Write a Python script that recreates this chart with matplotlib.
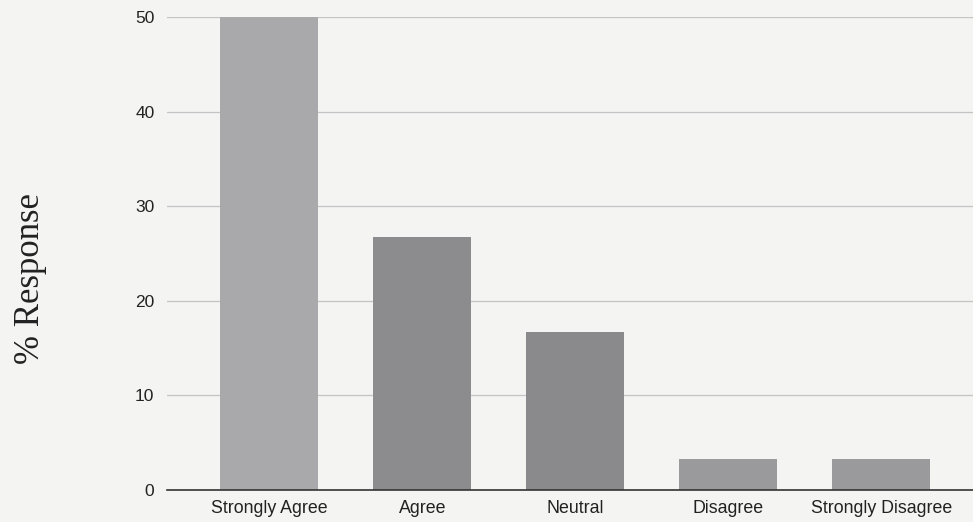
import matplotlib
matplotlib.use("Agg")
import matplotlib.pyplot as plt

# Survey responses (% of respondents)
categories = ['Strongly Agree', 'Agree', 'Neutral', 'Disagree', 'Strongly Disagree']
values = [50.0, 26.7, 16.7, 3.3, 3.3]
bar_colors = ['#a9a9ab', '#8c8c8e', '#8a8a8c', '#9a9a9c', '#9a9a9c']
yticks = [0, 10, 20, 30, 40, 50]

bg = '#f4f4f3'
fig = plt.figure(figsize=(9.73, 5.22), dpi=100, facecolor=bg)
ax = fig.add_axes([0.1716, 0.0613, 0.8284, 0.9061], facecolor=bg)

x = list(range(len(categories)))
ax.bar(x, values, width=0.64, color=bar_colors, zorder=3)

ax.set_xlim(-0.67, 4.6)
ax.set_ylim(0, 50)
ax.set_yticks(yticks)
ax.set_xticks(x)
ax.set_xticklabels(categories, fontsize=12.8, family='Liberation Sans', color='#222222')
for lab in ax.get_yticklabels():
    lab.set_family('Liberation Sans')
    lab.set_fontsize(12.5)
    lab.set_color('#222222')
ax.tick_params(axis='both', length=0)
ax.tick_params(axis='y', pad=9)
ax.tick_params(axis='x', pad=7)

ax.grid(axis='y', color='#c4c4c4', linewidth=0.9, zorder=0)
for s in ['top', 'right', 'left']:
    ax.spines[s].set_visible(False)
ax.spines['bottom'].set_color('#333333')
ax.spines['bottom'].set_linewidth(1.2)
ax.spines['bottom'].set_zorder(4)

fig.text(0.031, 0.466, '% Response', rotation=90, ha='center', va='center',
         fontsize=25, family='Liberation Serif', color='#222222')

fig.savefig('out.png', dpi=100, facecolor=bg)
